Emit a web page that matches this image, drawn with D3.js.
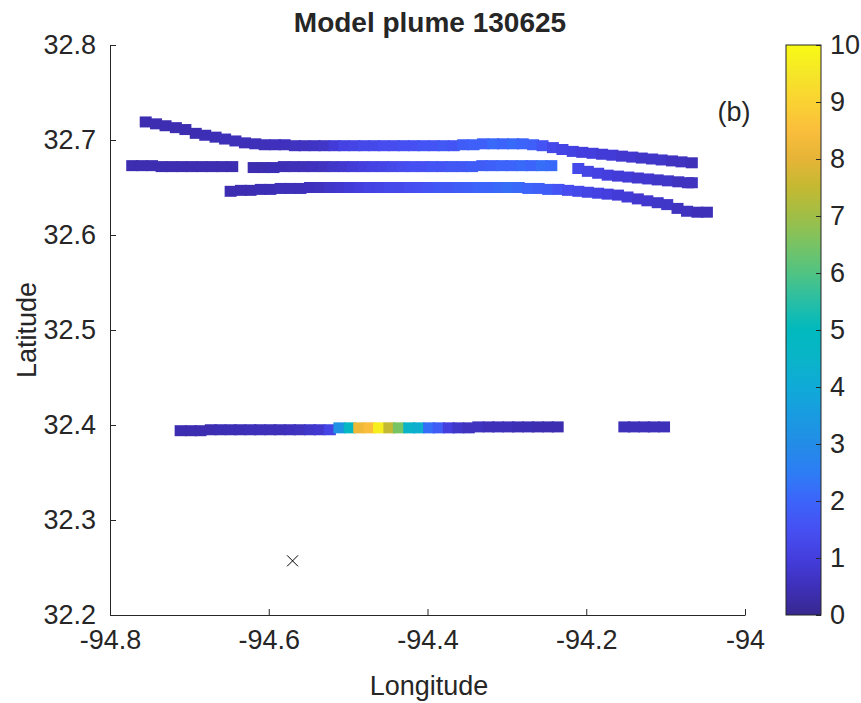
<!DOCTYPE html>
<html><head><meta charset="utf-8">
<script src="https://cdn.jsdelivr.net/npm/d3@7"></script>
<style>body{margin:0;background:#fff} text{font-family:"Liberation Sans",Arial,sans-serif;fill:#262626}</style>
</head><body><svg id="c" width="861" height="703"></svg>
<script>
// ---------- data ----------
const title = "Model plume 130625";
const panelLabel = "(b)";
const xTicks = [-94.8, -94.6, -94.4, -94.2, -94];
const xTickLabels = ["-94.8", "-94.6", "-94.4", "-94.2", "-94"];
const yTicks = [32.2, 32.3, 32.4, 32.5, 32.6, 32.7, 32.8];
const yTickLabels = ["32.2", "32.3", "32.4", "32.5", "32.6", "32.7", "32.8"];
const cbTicks = [0,1,2,3,4,5,6,7,8,9,10];

// top track
const trackALon = [-94.755,-94.742,-94.730,-94.717,-94.705,-94.692,-94.680,-94.667,-94.655,-94.642,-94.630,-94.617,-94.605,-94.592,-94.580,-94.567,-94.555,-94.542,-94.530,-94.517,-94.505,-94.492,-94.480,-94.467,-94.455,-94.442,-94.430,-94.417,-94.405,-94.392,-94.380,-94.367,-94.355,-94.342,-94.330,-94.317,-94.305,-94.292,-94.280,-94.267,-94.255,-94.242,-94.230,-94.217,-94.205,-94.192,-94.180,-94.167,-94.155,-94.142,-94.130,-94.117,-94.105,-94.092,-94.080,-94.067];
const trackALat = [32.719,32.717,32.715,32.713,32.711,32.707,32.705,32.703,32.701,32.699,32.697,32.696,32.695,32.695,32.695,32.694,
  32.694,32.694,32.694,32.694,32.694,32.694,32.694,32.694,32.694,32.694,32.694,32.694,32.694,32.694,32.694,32.694,
  32.695,32.695,32.696,32.696,32.696,32.696,32.696,32.695,32.694,
  32.692,32.690,32.688,32.687,32.686,32.685,32.684,32.683,32.682,32.681,32.680,32.679,32.678,32.677,32.676];
const trackAVal = [0.4,0.4,0.4,0.4,0.4,0.4,0.45,0.45,0.5,0.5,0.5,0.5,0.5,0.55,0.55,0.6,
  0.6,0.65,0.7,0.9,1.1,1.2,1.3,1.3,1.4,1.4,1.5,1.5,1.6,1.6,1.7,1.6,
  1.8,1.9,1.9,2.1,2.0,2.1,2.0,1.9,1.6,
  1.3,1.2,1.1,1.0,1.0,0.9,0.9,0.8,0.8,0.7,0.7,0.7,0.6,0.6,0.5];

// middle track (three pieces)
const trackB1Lon = [-94.772,-94.760,-94.747,-94.735,-94.722,-94.709,-94.697,-94.684,-94.671,-94.659,-94.646];
const trackB1Lat = [32.673,32.673,32.673,32.672,32.672,32.672,32.672,32.672,32.672,32.672,32.672];
const trackB1Val = [0.4,0.4,0.4,0.4,0.4,0.4,0.4,0.4,0.4,0.4,0.4];
const trackB2Lon = [-94.619,-94.606,-94.594,-94.581,-94.569,-94.556,-94.544,-94.531,-94.519,-94.506,-94.494,-94.481,-94.469,-94.456,-94.444,-94.431,-94.419,-94.406,-94.394,-94.381,-94.369,-94.356,-94.344,-94.331,-94.319,-94.306,-94.294,-94.281,-94.269,-94.256,-94.244];
const trackB2Lat = [32.671,32.671,32.671,32.672,32.672,32.672,32.672,32.672,32.672,32.672,32.672,32.672,32.672,32.672,32.672,32.672,32.672,32.672,32.672,32.672,32.672,32.672,32.672,32.673,32.673,32.673,32.673,32.673,32.673,32.673,32.673];
const trackB2Val = [0.4,0.4,0.45,0.45,0.5,0.5,0.55,0.6, 0.7,0.8,0.9,1.0,1.1,1.2,1.3, 1.4,1.5,1.5,1.6,1.6,1.7,1.7,1.8, 1.8,1.9,2.0,2.0,2.1,2.0,2.2,2.1];
const trackB3Lon = [-94.210,-94.198,-94.185,-94.173,-94.160,-94.147,-94.135,-94.122,-94.110,-94.097,-94.084,-94.072,-94.067];
const trackB3Lat = [32.670,32.667,32.665,32.663,32.662,32.661,32.660,32.659,32.658,32.657,32.656,32.655,32.655];
const trackB3Val = [1.3,1.2,1.1,1.0,0.9,0.9,0.8,0.8,0.7,0.7,0.6,0.6,0.6];

// lower-top track
const trackCLon = [-94.648,-94.635,-94.623,-94.610,-94.598,-94.585,-94.573,-94.560,-94.548,-94.535,-94.523,-94.510,-94.498,-94.485,-94.473,-94.460,-94.448,-94.435,-94.423,-94.410,-94.398,-94.385,-94.373,-94.360,-94.348,-94.335,-94.323,-94.310,-94.298,-94.285,-94.273,-94.260,-94.248,-94.235,-94.223,-94.210,-94.198,-94.185,-94.173,-94.160,-94.148,-94.135,-94.123,-94.110,-94.098,-94.085,-94.073,-94.060,-94.048];
const trackCLat = [32.646,32.647,32.647,32.648, 32.648,32.649,32.649,32.649,
  32.650,32.650,32.650,32.650,32.650,32.650,32.650,32.650,32.650,32.650,32.650,32.650,32.650,32.650,32.650,32.650,32.650,32.650,32.650,32.650,32.650,
  32.650,32.649,32.649,32.648,32.648,
  32.647,32.646,32.645,32.644,32.643,32.642,32.640,32.638,32.636,32.634,32.632,32.628,32.625,32.624,32.624];
const trackCVal = [0.4,0.4,0.4,0.45,0.45,0.5,0.5,0.5,0.55,0.6,
  0.7,0.8,0.9,1.0,1.1,1.2,1.3,1.3,1.4,1.5,
  1.6,1.7,1.7,1.8,1.9,2.0,2.0,2.1,2.2,2.1,2.0,1.9,1.8,1.6,
  1.4,1.3,1.2,1.1,1.0,0.9,0.9,0.8,0.8,0.7,0.7,0.6,0.6,0.5,0.5];

// southern transect
const trackD1Lon = [-94.711,-94.698,-94.686,-94.673,-94.661,-94.648,-94.636,-94.623,-94.611,-94.598,-94.586,-94.573,-94.561,-94.548,-94.536,-94.523,-94.511,-94.498,-94.486,-94.473,-94.461,-94.448,-94.436,-94.423,-94.411,-94.398,-94.386,-94.373,-94.361,-94.348,-94.336,-94.323,-94.311,-94.298,-94.286,-94.273,-94.261,-94.248,-94.236];
const trackD1Lat = [32.394,32.394,32.394,32.395,32.395,32.395,32.395,32.395,32.395,32.395,32.395,32.395,32.395,32.395,32.395,32.395,
  32.397,32.397,32.397,32.397,32.397,32.397,32.397,32.397,32.397,32.397,32.397,32.397,32.397,32.397,
  32.398,32.398,32.398,32.398,32.398,32.398,32.398,32.398,32.398];
const trackD1Val = [0.4,0.4,0.4,0.4,0.45,0.45,0.45,0.5,0.5,0.5,0.5,0.55,0.6,0.7,0.8,1.2,
  3.2,4.8,8.2,8.5,9.7,7.5,6.5,4.5,4.3,2.2,1.8,1.0,
  0.7,0.6,0.6,0.5,0.5,0.5,0.45,0.45,0.4,0.4,0.4];
const trackD2Lon = [-94.152,-94.140,-94.127,-94.115,-94.102];
const trackD2Lat = [32.398,32.398,32.398,32.398,32.398];
const trackD2Val = [0.5,0.5,0.5,0.5,0.5];

// source location
const sourceLon = [-94.570];
const sourceLat = [32.257];

// ---------- drawing ----------
const svg = d3.select("#c");
const x = d3.scaleLinear().domain([-94.8, -94]).range([110, 745]);
const y = d3.scaleLinear().domain([32.2, 32.8]).range([615, 45]);

// parula-like colormap
const cmapColors = ["#37288f","#3e30b9","#443ede","#4650f2","#3c64fa","#2d7df5","#238ce6","#199be1","#0faad7","#0ab4c8","#00b9be","#28bea5","#50c382","#78c364","#a0be46","#c3b932","#e6b437","#fabe3c","#fad232","#f5e628","#f9f914"];
const cmapDomain = d3.range(cmapColors.length).map(i => i * 10 / (cmapColors.length - 1));
const color = d3.scaleLinear().domain(cmapDomain).range(cmapColors).interpolate(d3.interpolateRgb).clamp(true);

const tracks = [
  [trackALon, trackALat, trackAVal],
  [trackB1Lon, trackB1Lat, trackB1Val],
  [trackB2Lon, trackB2Lat, trackB2Val],
  [trackB3Lon, trackB3Lat, trackB3Val],
  [trackCLon, trackCLat, trackCVal],
  [trackD1Lon, trackD1Lat, trackD1Val],
  [trackD2Lon, trackD2Lat, trackD2Val]
];
const mw = 12, mh = 11;
const gMarks = svg.append("g");
tracks.forEach(([lo, la, va]) => {
  const pts = lo.map((d, i) => ({lon: d, lat: la[i], v: va[i]}));
  gMarks.append("g").selectAll("rect").data(pts).join("rect")
    .attr("x", d => x(d.lon) - mw / 2)
    .attr("y", d => y(d.lat) - mh / 2)
    .attr("width", mw).attr("height", mh)
    .attr("fill", d => color(d.v));
});

// source X marker
svg.append("g").selectAll("path").data(sourceLon.map((d, i) => ({lon: d, lat: sourceLat[i]}))).join("path")
  .attr("d", d => { const cx = x(d.lon), cy = y(d.lat), s = 5.5; return `M${cx-s},${cy-s}L${cx+s},${cy+s}M${cx-s},${cy+s}L${cx+s},${cy-s}`; })
  .attr("stroke", "#000").attr("stroke-width", 1).attr("fill", "none");

// axes (MATLAB style, ticks inward, no box)
const axCol = "#262626";
const fs = 27;
const yAxis = d3.axisLeft(y).tickValues(yTicks).tickFormat((d, i) => yTickLabels[i]).tickSizeInner(-6).tickSizeOuter(0).tickPadding(14);
const gy = svg.append("g").attr("transform", "translate(110,0)").call(yAxis);
const xAxis = d3.axisBottom(x).tickValues(xTicks).tickFormat((d, i) => xTickLabels[i]).tickSizeInner(-6).tickSizeOuter(0).tickPadding(15);
const gx = svg.append("g").attr("transform", "translate(0,615)").call(xAxis);
[gx, gy].forEach(g => {
  g.select(".domain").attr("stroke", axCol).attr("stroke-width", 1);
  g.selectAll(".tick line").attr("stroke", axCol);
  g.selectAll(".tick text").attr("font-size", fs).attr("fill", axCol).attr("font-family", '"Liberation Sans",Arial,sans-serif');
});

// labels
svg.append("text").attr("x", 430).attr("y", 32).attr("text-anchor", "middle")
  .attr("font-size", 28).attr("font-weight", "bold").attr("fill", "#000").text(title);
svg.append("text").attr("x", 429).attr("y", 695).attr("text-anchor", "middle")
  .attr("font-size", fs).text("Longitude");
svg.append("text").attr("transform", "translate(36,330) rotate(-90)").attr("text-anchor", "middle")
  .attr("font-size", fs).text("Latitude");
svg.append("text").attr("x", 734).attr("y", 121).attr("text-anchor", "middle")
  .attr("font-size", fs).attr("fill", "#000").text(panelLabel);

// colorbar
const cbX = 786, cbW = 35;
const cy = d3.scaleLinear().domain([0, 10]).range([615, 45]);
const defs = svg.append("defs");
const grad = defs.append("linearGradient").attr("id", "cbgrad").attr("x1", 0).attr("y1", 1).attr("x2", 0).attr("y2", 0);
d3.range(0, 10.01, 0.25).forEach(v => grad.append("stop").attr("offset", v / 10).attr("stop-color", color(v)));
svg.append("rect").attr("x", cbX).attr("y", 45).attr("width", cbW).attr("height", 570).attr("fill", "url(#cbgrad)")
  .attr("stroke", axCol).attr("stroke-width", 1);
const cbAxis = d3.axisRight(cy).tickValues(cbTicks).tickFormat(d3.format("d")).tickSizeInner(-5).tickSizeOuter(0).tickPadding(9);
const gcb = svg.append("g").attr("transform", `translate(${cbX + cbW},0)`).call(cbAxis);
gcb.select(".domain").remove();
gcb.selectAll(".tick line").attr("stroke", axCol);
gcb.selectAll(".tick text").attr("font-size", fs).attr("fill", axCol).attr("font-family", '"Liberation Sans",Arial,sans-serif');
</script>
</body></html>
